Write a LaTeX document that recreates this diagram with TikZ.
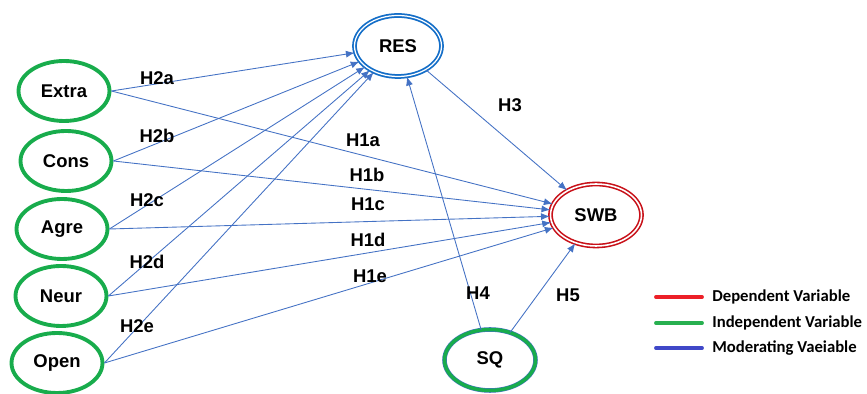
\documentclass[tikz,border=0pt]{standalone}
\usepackage{fontspec}
\setmainfont{Liberation Sans}
\newfontfamily\legendfont{Carlito}
\usetikzlibrary{shapes.geometric, arrows.meta}

\definecolor{arrowblue}{RGB}{68,114,196}
\definecolor{vargreen}{RGB}{24,172,76}
\definecolor{varred}{RGB}{200,16,24}
\definecolor{resblue}{RGB}{20,110,200}
\definecolor{keyred}{RGB}{236,32,40}
\definecolor{keygreen}{RGB}{40,176,80}
\definecolor{keyblue}{RGB}{64,72,200}

\begin{document}
\begin{tikzpicture}[x=0.02cm, y=-0.02cm,
  varfont/.style={font=\bfseries\fontsize{10.5}{12}\selectfont},
  indep/.style={ellipse, draw=vargreen, line width=2.2pt, minimum width=1.82cm, minimum height=1.2cm, inner sep=0pt, varfont},
  dep/.style={ellipse, draw=varred, double=white, line width=0.9pt, double distance=0.9pt, minimum width=1.82cm, minimum height=1.24cm, inner sep=0pt, varfont},
  moder/.style={ellipse, draw=resblue, double=white, line width=1pt, double distance=0.7pt, minimum width=1.74cm, minimum height=1.22cm, inner sep=0pt, varfont},
  sqvar/.style={ellipse, draw=arrowblue, double=vargreen, line width=0.3pt, double distance=2pt, minimum width=1.82cm, minimum height=1.22cm, inner sep=0pt, varfont},
  hyp/.style={->, draw=arrowblue, line width=0.5pt, >={Latex[length=5pt, width=4pt]}},
  hlabel/.style={inner sep=1pt, varfont},
  keyline/.style={line width=2.2pt, line cap=round},
  keytext/.style={anchor=west, inner sep=0pt, font=\legendfont\bfseries\fontsize{9.5}{11}\selectfont}]
\useasboundingbox (0,0) rectangle (867,394);
% Variables
\node[indep] (extra) at (64,91) {Extra};
\node[indep] (cons) at (66,161) {Cons};
\node[indep] (agre) at (62,229) {Agre};
\node[indep] (neur) at (61,296) {Neur};
\node[indep] (open) at (57,363) {Open};
\node[moder] (res) at (398,46) {RES};
\node[dep] (swb) at (596,215) {SWB};
\node[sqvar] (sq) at (490,360) {SQ};
% Arrows
\draw[hyp] (extra.east)--(res);
\draw[hyp] (cons.east)--(res);
\draw[hyp] (agre.east)--(res);
\draw[hyp] (neur.east)--(res);
\draw[hyp] (open.east)--(res);
\draw[hyp] (extra.east)--(swb);
\draw[hyp] (cons.east)--(swb);
\draw[hyp] (agre.east)--(swb);
\draw[hyp] (neur.east)--(swb);
\draw[hyp] (open.east)--(swb);
\draw[hyp] (res)--(swb);
\draw[hyp] (sq)--(res);
\draw[hyp] (sq)--(swb);
% Labels
\node[hlabel] (h2a) at (157,78) {H2a};
\node[hlabel] (h2b) at (157,136) {H2b};
\node[hlabel] (h2c) at (147,200) {H2c};
\node[hlabel] (h2d) at (147,262) {H2d};
\node[hlabel] (h2e) at (137,326) {H2e};
\node[hlabel] (h1a) at (363,140) {H1a};
\node[hlabel] (h1b) at (367,175) {H1b};
\node[hlabel] (h1c) at (368,204) {H1c};
\node[hlabel] (h1d) at (368,240) {H1d};
\node[hlabel] (h1e) at (370,276) {H1e};
\node[hlabel] (h3) at (510,105) {H3};
\node[hlabel] (h4) at (478,293) {H4};
\node[hlabel] (h5) at (568,295) {H5};
% Legend
\coordinate (k1a) at (656,297); \coordinate (k1b) at (702,297);
\coordinate (k2a) at (656,323); \coordinate (k2b) at (702,323);
\coordinate (k3a) at (656,348); \coordinate (k3b) at (702,348);
\draw[keyline, keyred] (k1a)--(k1b);
\draw[keyline, keygreen] (k2a)--(k2b);
\draw[keyline, keyblue] (k3a)--(k3b);
\node[keytext] (key1) at (712,297) {Dependent Variable};
\node[keytext] (key2) at (712,323) {Independent Variable};
\node[keytext] (key3) at (712,348) {Moderating Vaeiable};
\end{tikzpicture}
\end{document}
